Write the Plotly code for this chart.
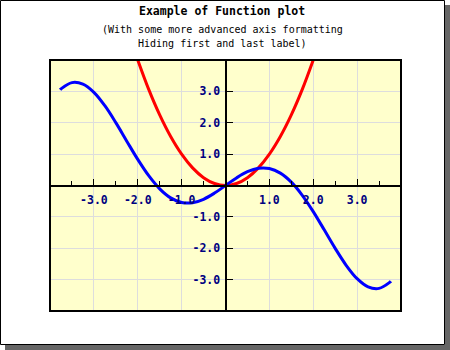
import plotly.graph_objects as go

# y = x*cos(x) sampled over [-1.2*pi, 1.2*pi]
blue_x = [-3.77, -3.75, -3.5, -3.25, -3.0, -2.75, -2.5, -2.25, -2.0, -1.75,
          -1.5, -1.25, -1.0, -0.75, -0.5, -0.25, 0.0, 0.25, 0.5, 0.75,
          1.0, 1.25, 1.5, 1.75, 2.0, 2.25, 2.5, 2.75, 3.0, 3.25,
          3.5, 3.75, 3.77]
blue_y = [3.050, 3.077, 3.278, 3.231, 2.970, 2.542, 2.003, 1.413, 0.832, 0.312,
          -0.106, -0.394, -0.540, -0.549, -0.439, -0.242, 0.0, 0.242, 0.439, 0.549,
          0.540, 0.394, 0.106, -0.312, -0.832, -1.413, -2.003, -2.542, -2.970, -3.231,
          -3.278, -3.077, -3.050]

# y = x*x sampled over [-2, 2]
red_x = [-2.0, -1.75, -1.5, -1.25, -1.0, -0.75, -0.5, -0.25, 0.0,
         0.25, 0.5, 0.75, 1.0, 1.25, 1.5, 1.75, 2.0]
red_y = [4.0, 3.0625, 2.25, 1.5625, 1.0, 0.5625, 0.25, 0.0625, 0.0,
         0.0625, 0.25, 0.5625, 1.0, 1.5625, 2.25, 3.0625, 4.0]

major_ticks = [-4, -3, -2, -1, 0, 1, 2, 3, 4]
# first, last and origin labels are left blank
major_labels = ["", "-3.0", "-2.0", "-1.0", "", "1.0", "2.0", "3.0", ""]
x_minor_ticks = [-3.5, -2.5, -1.5, -0.5, 0.5, 1.5, 2.5, 3.5]

title_text = "Example of Function plot"
subtitle_lines = ["(With some more advanced axis formatting", "Hiding first and last label)"]

W, H = 450, 350
L, T, R, B = 50, 60, 401, 311  # plot area in pixels


def px(x):
    return (x - L) / (R - L)


def py(y):
    return (B - y) / (B - T)


fig = go.Figure()
fig.add_trace(go.Scatter(x=red_x, y=red_y, mode="lines",
                         line=dict(color="#ff0000", width=3, shape="spline"),
                         hoverinfo="skip"))
fig.add_trace(go.Scatter(x=blue_x, y=blue_y, mode="lines",
                         line=dict(color="#0000ff", width=3, shape="spline"),
                         hoverinfo="skip"))

tickfont = dict(family="DejaVu Sans Mono", size=11.5, color="#000080", weight="bold")

fig.update_xaxes(range=[-4, 4], anchor="free", position=0.5,
                 tickmode="array", tickvals=major_ticks, ticktext=major_labels,
                 ticks="inside", ticklen=6, tickwidth=1, tickcolor="black",
                 tickfont=tickfont, ticklabelstandoff=4,
                 showgrid=True, gridcolor="#dddddd", gridwidth=1,
                 zeroline=False, showline=True, linecolor="black", linewidth=2,
                 minor=dict(tickvals=x_minor_ticks, ticks="inside", ticklen=4,
                            tickcolor="black", showgrid=False))
fig.update_yaxes(range=[-4, 4], anchor="free", position=0.5,
                 tickmode="array", tickvals=major_ticks, ticktext=major_labels,
                 ticks="inside", ticklen=6, tickwidth=1, tickcolor="black",
                 tickfont=tickfont, ticklabelstandoff=2,
                 showgrid=True, gridcolor="#dddddd", gridwidth=1,
                 zeroline=False, showline=True, linecolor="black", linewidth=2)

shapes = [
    # drop shadow of the frame
    dict(type="rect", xref="paper", yref="paper", layer="below",
         x0=px(445), x1=px(450), y0=py(5), y1=py(350),
         fillcolor="#666666", line=dict(width=0)),
    dict(type="rect", xref="paper", yref="paper", layer="below",
         x0=px(5), x1=px(450), y0=py(345), y1=py(350),
         fillcolor="#666666", line=dict(width=0)),
    # image frame
    dict(type="rect", xref="paper", yref="paper", layer="below",
         x0=px(0.5), x1=px(444.5), y0=py(0.5), y1=py(344.5),
         line=dict(color="black", width=1)),
    # plot area border
    dict(type="rect", xref="paper", yref="paper", layer="above",
         x0=0, x1=1, y0=0, y1=1, line=dict(color="black", width=2)),
]

annotations = [
    dict(text=title_text, xref="paper", yref="paper", x=px(222), y=py(11),
         xanchor="center", yanchor="middle", showarrow=False,
         font=dict(family="DejaVu Sans Mono", size=11.5, color="black", weight="bold")),
    dict(text=subtitle_lines[0], xref="paper", yref="paper", x=px(222), y=py(29),
         xanchor="center", yanchor="middle", showarrow=False,
         font=dict(family="DejaVu Sans Mono", size=10, color="black")),
    dict(text=subtitle_lines[1], xref="paper", yref="paper", x=px(222), y=py(43),
         xanchor="center", yanchor="middle", showarrow=False,
         font=dict(family="DejaVu Sans Mono", size=10, color="black")),
]

fig.update_layout(
    width=W, height=H,
    margin=dict(l=L, r=W - R, t=T, b=H - B, pad=0),
    paper_bgcolor="white", plot_bgcolor="#ffffcc",
    showlegend=False, shapes=shapes, annotations=annotations,
)

fig.write_html("out.html")
